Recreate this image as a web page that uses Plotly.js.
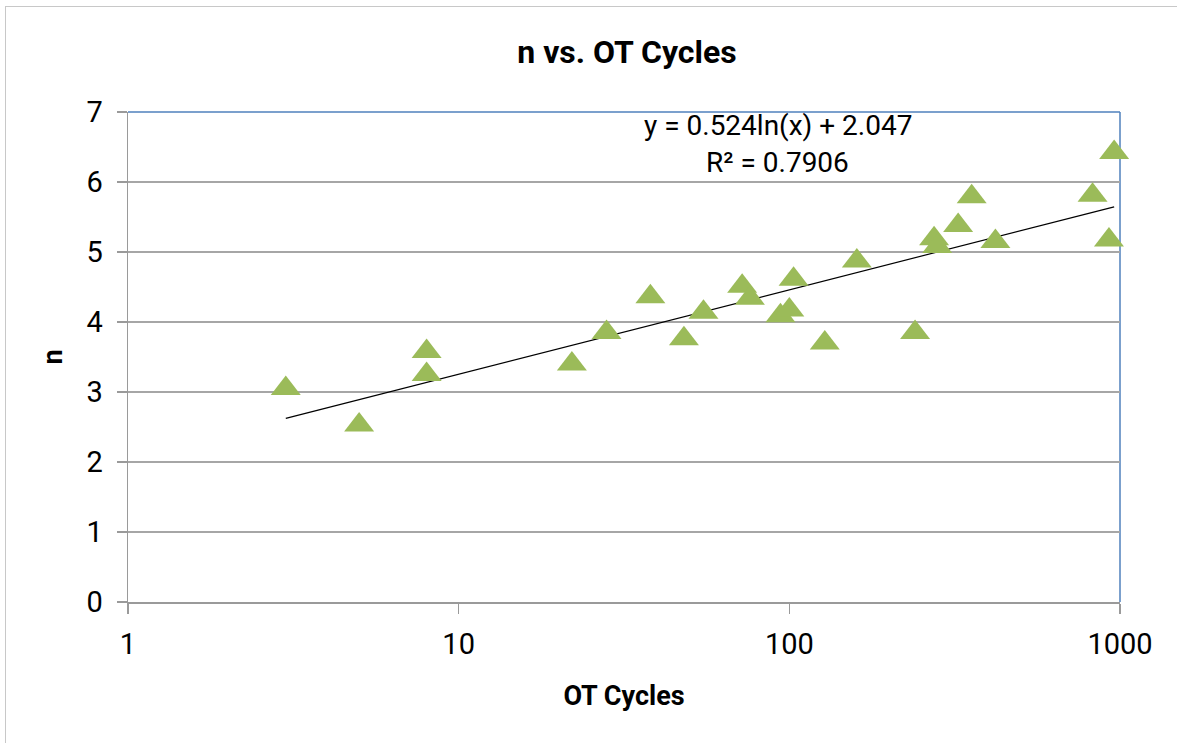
<!DOCTYPE html>
<html>
<head>
<meta charset="utf-8">
<script src="https://cdn.plot.ly/plotly-3.0.1.min.js"></script>
<style>
  html, body { margin: 0; padding: 0; background: #ffffff; }
  #wrap { position: relative; width: 1177px; height: 743px; overflow: hidden; }
  #frame { position: absolute; left: 5px; top: 6px; width: 1200px; height: 800px;
           border-top: 1px solid #c8c8c8; border-left: 1px solid #c8c8c8; pointer-events: none; }
  #chart { position: absolute; left: 0; top: 0; width: 1177px; height: 743px; }
</style>
</head>
<body>
<div id="wrap">
  <div id="chart"></div>
  <div id="frame"></div>
</div>
<script>
// ---- data ----
const otCycles = [3, 5, 8, 8, 22, 28, 38, 48, 55, 72, 76, 94, 100, 103, 128, 160, 240, 274, 280, 324, 356, 420, 826, 926, 960];
const nValues  = [3.05, 2.53, 3.58, 3.25, 3.40, 3.85, 4.36, 3.76, 4.14, 4.51, 4.34, 4.09, 4.17, 4.61, 3.70, 4.87, 3.85, 5.19, 5.08, 5.38, 5.79, 5.15, 5.81, 5.17, 6.42];

// logarithmic trendline shown on the chart: y = a ln(x) + b
const trendA = 0.524;
const trendB = 2.047;
const trendR2 = 0.7906;

const xTickVals = [1, 10, 100, 1000];
const xTickText = ['1', '10', '100', '1000'];
const yTickVals = [0, 1, 2, 3, 4, 5, 6, 7];

const titleText = 'n vs. OT Cycles';
const xTitle = 'OT Cycles';
const yTitle = 'n';

// trendline endpoints (a ln-curve is straight on a log x-axis)
const xMin = Math.min(...otCycles), xMax = Math.max(...otCycles);
const trendX = [xMin, xMax];
const trendY = trendX.map(v => trendA * Math.log(v) + trendB);

const FONT = 'Roboto, "Open Sans", sans-serif';
const GRID = '#a6a6a6';
const AXIS = '#9a9a9a';
const BLUE = '#4f81bd';

const traces = [
  {
    x: trendX, y: trendY, type: 'scatter', mode: 'lines',
    line: { color: '#000000', width: 1.2 },
    hoverinfo: 'skip', showlegend: false
  },
  {
    x: otCycles, y: nValues, type: 'scatter', mode: 'markers',
    marker: { symbol: 'triangle-up', size: 26, color: '#9bbb59', line: { width: 0 } },
    showlegend: false, cliponaxis: false
  }
];

const layout = {
  width: 1177, height: 743,
  margin: { l: 128, r: 57, t: 112, b: 141 },
  paper_bgcolor: 'rgba(0,0,0,0)',
  plot_bgcolor: '#ffffff',
  font: { family: FONT, color: '#000000' },
  showlegend: false,
  title: {
    text: '<b>' + titleText + '</b>',
    font: { family: FONT, size: 32, color: '#000000' },
    x: 0.503, xanchor: 'center', xref: 'paper',
    y: 1 - 52 / 743, yanchor: 'middle', yref: 'container'
  },
  xaxis: {
    type: 'log', range: [0, 3],
    tickvals: xTickVals, ticktext: xTickText,
    showgrid: false, zeroline: false,
    showline: true, linecolor: AXIS, linewidth: 1.5,
    ticks: 'outside', ticklen: 10, tickcolor: AXIS, tickwidth: 1.5,
    ticklabelstandoff: 6,
    tickfont: { family: FONT, size: 29, color: '#000000' },
    title: { text: '<b>' + xTitle + '</b>', font: { family: FONT, size: 27, color: '#000000' }, standoff: 26 }
  },
  yaxis: {
    range: [0, 7], tickvals: yTickVals,
    showgrid: true, gridcolor: GRID, gridwidth: 1.5,
    zeroline: false,
    showline: true, linecolor: AXIS, linewidth: 1.5,
    ticks: 'outside', ticklen: 10, tickcolor: AXIS, tickwidth: 1.5,
    ticklabelstandoff: 8,
    tickfont: { family: FONT, size: 29, color: '#000000' },
    title: { text: '<b>' + yTitle + '</b>', font: { family: FONT, size: 27, color: '#000000' }, standoff: 16 }
  },
  shapes: [
    { type: 'line', xref: 'paper', yref: 'paper', x0: 0, x1: 1, y0: 1, y1: 1,
      line: { color: BLUE, width: 1.5 }, layer: 'below' },
    { type: 'line', xref: 'paper', yref: 'paper', x0: 1, x1: 1, y0: 0, y1: 1,
      line: { color: BLUE, width: 1.5 }, layer: 'below' }
  ],
  annotations: [
    { xref: 'paper', yref: 'paper', x: 0.655, y: (602 - 125) / 490, xanchor: 'center', yanchor: 'middle',
      text: 'y = ' + trendA.toFixed(3) + 'ln(x) + ' + trendB.toFixed(3), showarrow: false,
      font: { family: FONT, size: 28, color: '#000000' } },
    { xref: 'paper', yref: 'paper', x: 0.655, y: (602 - 162) / 490, xanchor: 'center', yanchor: 'middle',
      text: 'R² = ' + trendR2.toFixed(4), showarrow: false,
      font: { family: FONT, size: 28, color: '#000000' } }
  ]
};

Plotly.newPlot('chart', traces, layout, { displayModeBar: false, staticPlot: true });
</script>
</body>
</html>
